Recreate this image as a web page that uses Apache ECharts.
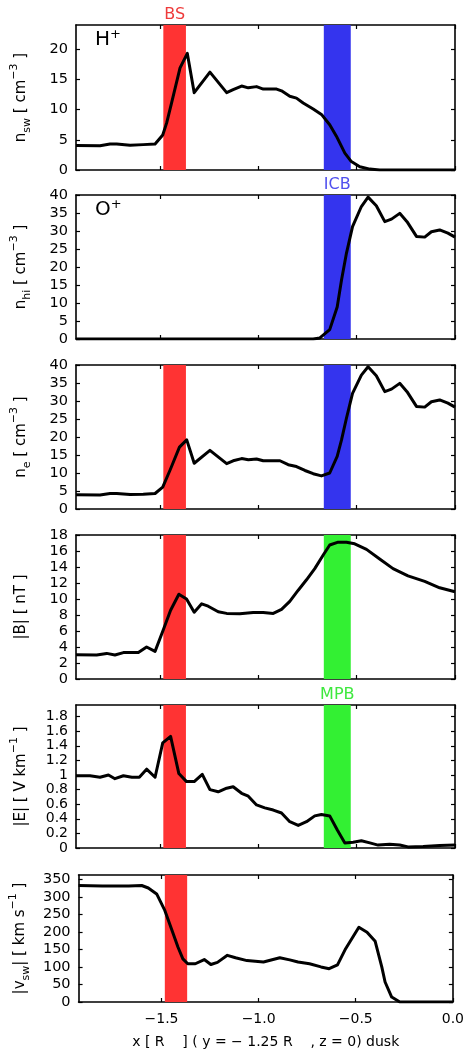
<!DOCTYPE html>
<html><head><meta charset="utf-8">
<script src="https://cdn.jsdelivr.net/npm/echarts@6/dist/echarts.min.js"></script>
<style>html,body{margin:0;padding:0;background:#fff}#c{width:467px;height:1060px}</style>
</head><body><div id="c"></div>
<script>
// ---------- data ----------
const xMin = -1.927;
const xTicks = [-1.5, -1.0, -0.5, 0.0];
const bsBand = [-1.483, -1.368];
const icbBand = [-0.667, -0.530];
const mpbBand = [-0.667, -0.530];

const nswX = [-1.927,-1.805,-1.754,-1.720,-1.652,-1.585,-1.525,-1.486,-1.466,-1.441,-1.398,-1.361,-1.326,-1.246,-1.161,-1.128,-1.085,-1.051,-1.009,-0.975,-0.907,-0.882,-0.840,-0.806,-0.772,-0.721,-0.679,-0.637,-0.603,-0.560,-0.527,-0.484,-0.433,-0.383,0.0];
const nswY = [4.05,4.0,4.3,4.3,4.1,4.2,4.3,5.8,7.8,11.1,16.9,19.3,12.8,16.2,12.8,13.3,13.9,13.6,13.8,13.4,13.4,13.1,12.2,11.9,11.1,10.1,9.2,7.5,5.6,2.8,1.4,0.55,0.15,0,0];

const nhiX = [-1.927,-0.721,-0.687,-0.637,-0.599,-0.577,-0.552,-0.521,-0.476,-0.442,-0.400,-0.357,-0.323,-0.281,-0.244,-0.196,-0.154,-0.120,-0.078,-0.036,0.0];
const nhiY = [0,0,0.3,2.6,8.9,16.4,23.8,31.2,36.8,39.4,37.0,32.6,33.3,34.9,32.6,28.5,28.3,29.8,30.3,29.4,28.3];

const neX = [-1.927,-1.805,-1.754,-1.720,-1.652,-1.585,-1.525,-1.486,-1.448,-1.401,-1.364,-1.326,-1.246,-1.161,-1.128,-1.085,-1.051,-1.009,-0.975,-0.890,-0.848,-0.806,-0.763,-0.721,-0.679,-0.637,-0.599,-0.577,-0.552,-0.521,-0.476,-0.442,-0.400,-0.357,-0.323,-0.281,-0.244,-0.196,-0.154,-0.120,-0.078,-0.036,0.0];
const neY = [3.97,3.9,4.3,4.3,4.0,4.1,4.3,6.1,10.9,17.2,19.2,12.7,16.3,12.6,13.4,14.0,13.7,13.9,13.4,13.4,12.3,11.8,10.7,9.8,9.2,10.0,14.6,19.2,25.2,32.1,37.2,39.5,37.0,32.6,33.3,34.9,32.6,28.5,28.3,29.8,30.3,29.4,28.3];

const bX = [-1.927,-1.822,-1.771,-1.729,-1.686,-1.610,-1.568,-1.525,-1.483,-1.446,-1.404,-1.365,-1.326,-1.288,-1.255,-1.204,-1.161,-1.094,-1.026,-0.975,-0.924,-0.882,-0.840,-0.797,-0.755,-0.713,-0.670,-0.637,-0.594,-0.552,-0.510,-0.450,-0.383,-0.315,-0.239,-0.154,-0.078,0.0];
const bY = [3.03,3.0,3.2,3.0,3.3,3.3,4.0,3.45,6.15,8.6,10.6,10.0,8.35,9.4,9.1,8.4,8.2,8.15,8.3,8.3,8.2,8.7,9.7,11.1,12.4,13.8,15.5,16.75,17.1,17.1,16.9,16.2,15.0,13.8,12.9,12.2,11.4,10.9];

const eX = [-1.927,-1.856,-1.805,-1.762,-1.729,-1.686,-1.643,-1.605,-1.568,-1.525,-1.486,-1.446,-1.404,-1.365,-1.326,-1.285,-1.246,-1.204,-1.161,-1.128,-1.085,-1.051,-1.009,-0.967,-0.924,-0.882,-0.840,-0.797,-0.755,-0.713,-0.679,-0.637,-0.599,-0.560,-0.518,-0.476,-0.433,-0.391,-0.332,-0.281,-0.239,-0.162,-0.078,0.0];
const eY = [0.99,0.99,0.97,1.0,0.95,0.99,0.97,0.97,1.08,0.97,1.44,1.53,1.02,0.91,0.91,1.01,0.80,0.77,0.82,0.84,0.75,0.71,0.59,0.55,0.52,0.48,0.36,0.31,0.36,0.44,0.46,0.44,0.25,0.07,0.08,0.10,0.07,0.04,0.05,0.04,0.015,0.02,0.035,0.04];

const vX = [-1.927,-1.805,-1.669,-1.602,-1.568,-1.525,-1.483,-1.449,-1.415,-1.390,-1.365,-1.326,-1.280,-1.246,-1.212,-1.161,-1.119,-1.060,-0.975,-0.891,-0.840,-0.797,-0.738,-0.679,-0.637,-0.594,-0.552,-0.484,-0.442,-0.400,-0.366,-0.349,-0.315,-0.273,0.0];
const vY = [332,331,331,332,325,308,261,209,156,123,109,109,121,107,113,133,126,118,114,126,120,114,109,100,95,106,152,213,199,173,100,57,14,0,0];

const yTicks1 = [0,5,10,15,20];
const yTicks2 = [0,5,10,15,20,25,30,35,40];
const yTicks4 = [0,2,4,6,8,10,12,14,16,18];
const yTicks5 = [0,0.2,0.4,0.6,0.8,1,1.2,1.4,1.6,1.8];
const yTicks6 = [0,50,100,150,200,250,300,350];
const yMax = [24, 40, 40, 18, 1.96, 362];

// ---------- styling / layout ----------
const RED = '#ff3333', BLUE = '#3434ee', GREEN = '#33f033';
const FONT = 'DejaVu Sans';
const panels = [
  {top:25, h:145, x:nswX, y:nswY, ticks:yTicks1, name:'{m|n}{s|sw}{m| [ cm}{p|−3}{m| ]}',
   bands:[[bsBand, RED, 'BS', '#ee3b3b'], [icbBand, BLUE]]},
  {top:195, h:144, x:nhiX, y:nhiY, ticks:yTicks2, name:'{m|n}{s|hi}{m| [ cm}{p|−3}{m| ]}',
   bands:[[icbBand, BLUE, 'ICB', '#5050ee']]},
  {top:365, h:144, x:neX, y:neY, ticks:yTicks2, name:'{m|n}{s|e}{m| [ cm}{p|−3}{m| ]}',
   bands:[[bsBand, RED], [icbBand, BLUE]]},
  {top:535, h:144, x:bX, y:bY, ticks:yTicks4, name:'{m||B| [ nT ]}',
   bands:[[bsBand, RED], [mpbBand, GREEN]]},
  {top:705, h:143, x:eX, y:eY, ticks:yTicks5, name:'{m||E| [ V km}{p|−1}{m| ]}',
   bands:[[bsBand, RED], [mpbBand, GREEN, 'MPB', '#3ee83e']]},
  {top:875, h:127, x:vX, y:vY, ticks:yTicks6, name:'{m||v}{s|sw}{m|| [ km s}{p|−1}{m| ]}',
   bands:[[bsBand, RED]]}
];

const axLine = {show:true, onZero:false, lineStyle:{color:'#000', width:1.6}};
const tick = (vals) => ({show:true, inside:true, length:4, customValues:vals, lineStyle:{color:'#000', width:1.2}});
const labelStyle = {color:'#000', fontFamily:FONT, fontSize:14.5, showMinLabel:true, showMaxLabel:true, hideOverlap:false};
const fmtX = v => v === 0 ? '0.0' : (v < 0 ? '\u2212' : '') + Math.abs(v).toFixed(1);

const grid = [], xAxis = [], yAxis = [], series = [];
panels.forEach((p, i) => {
  const last = i === panels.length - 1;
  grid.push({left:76, right:12, top:p.top, height:p.h, show:false});
  const xb = {type:'value', gridIndex:i, min:xMin, max:0, position:'bottom', axisLine:axLine,
    axisTick:tick(xTicks), splitLine:{show:false},
    axisLabel:{show:last, customValues:xTicks, formatter:fmtX, margin:10, ...labelStyle, fontSize:14}};
  if (last) {
    Object.assign(xb, {name:'x [ R    ] ( y = \u2212 1.25 R    , z = 0) dusk', nameLocation:'middle', nameGap:33,
      nameTextStyle:{color:'#000', fontFamily:FONT, fontSize:14}});
  }
  xAxis.push(xb);
  xAxis.push({type:'value', gridIndex:i, min:xMin, max:0, position:'top', axisLine:axLine,
    axisTick:tick(xTicks), axisLabel:{show:false}, splitLine:{show:false}});
  yAxis.push({type:'value', gridIndex:i, min:0, max:yMax[i], position:'left', axisLine:axLine,
    axisTick:tick(p.ticks), splitLine:{show:false},
    axisLabel:{customValues:p.ticks, margin:8, ...labelStyle, fontSize:(i === 4 ? 14 : 14.5), lineHeight:14},
    name:p.name, nameLocation:'middle', nameGap:43,
    nameTextStyle:{color:'#000', fontFamily:FONT, rich:{
      m:{fontSize:15, lineHeight:24, fontFamily:FONT, color:'#000'},
      s:{fontSize:11, lineHeight:11, verticalAlign:'bottom', fontFamily:FONT, color:'#000'},
      p:{fontSize:11, lineHeight:11, verticalAlign:'top', fontFamily:FONT, color:'#000'}}}});
  yAxis.push({type:'value', gridIndex:i, min:0, max:yMax[i], position:'right', axisLine:axLine,
    axisTick:tick(p.ticks), axisLabel:{show:false}, splitLine:{show:false}});
  series.push({
    type:'line', xAxisIndex:2*i, yAxisIndex:2*i, symbol:'none', silent:true,
    data:p.x.map((xv, k) => [xv, p.y[k]]),
    lineStyle:{color:'#000', width:3, join:'round'},
    markArea:{silent:true, data:p.bands.map(b => [
      {xAxis:b[0][0], itemStyle:{color:b[1], opacity:1},
       label:{show:!!b[2], formatter:b[2] || '', position:'top', distance:2, color:b[3] || b[1], fontFamily:FONT, fontSize:16}},
      {xAxis:b[0][1]}])}
  });
});

const chart = echarts.init(document.getElementById('c'), null, {renderer:'canvas'});
chart.setOption({
  animation:false,
  backgroundColor:'#fff',
  grid, xAxis, yAxis, series,
  graphic:[
    {type:'text', left:95, top:28, z:100, style:{text:'{a|H}{b|+}', rich:{
      a:{fontSize:20, lineHeight:24, fontFamily:FONT, fill:'#000'},
      b:{fontSize:13, lineHeight:13, verticalAlign:'top', fontFamily:FONT, fill:'#000'}}}},
    {type:'text', left:95, top:198, z:100, style:{text:'{a|O}{b|+}', rich:{
      a:{fontSize:20, lineHeight:24, fontFamily:FONT, fill:'#000'},
      b:{fontSize:13, lineHeight:13, verticalAlign:'top', fontFamily:FONT, fill:'#000'}}}}
  ]
});
</script></body></html>
